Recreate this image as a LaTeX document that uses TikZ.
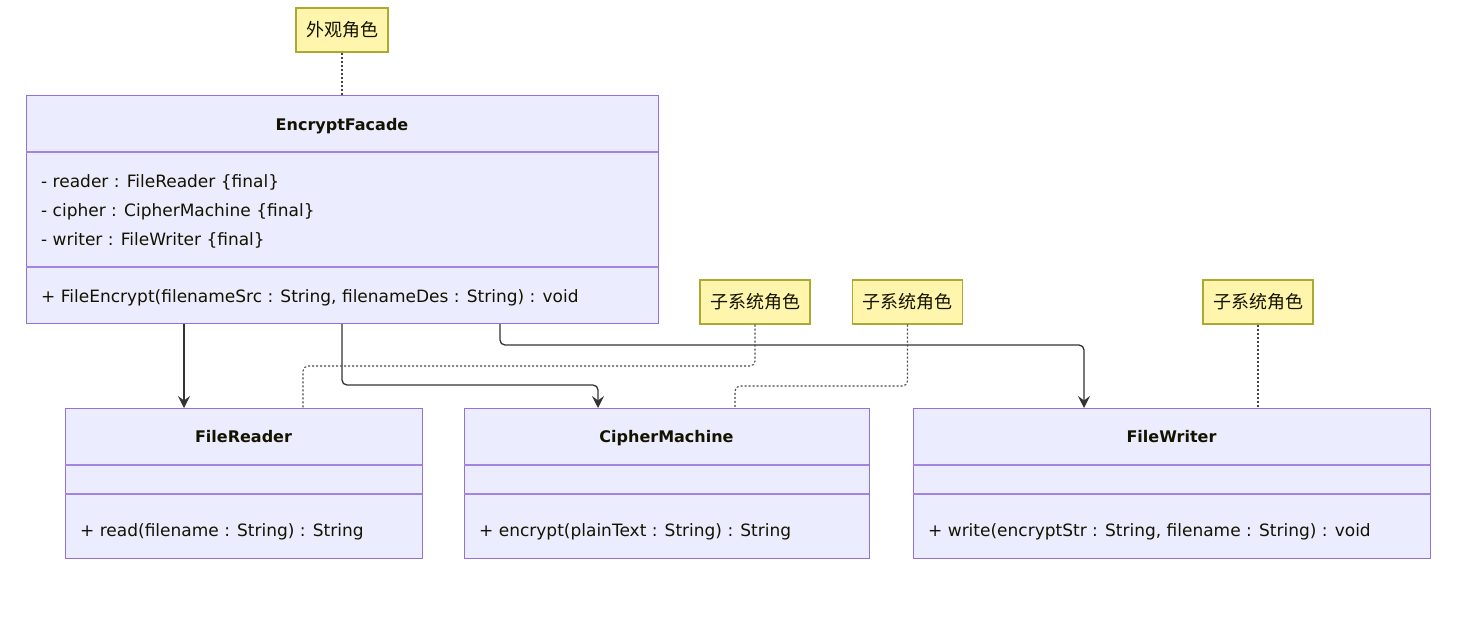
\documentclass[tikz,border=0pt]{standalone}
\usepackage{fontspec}
\setmainfont{DejaVu Sans}
\newfontfamily\cjk{Noto Sans CJK SC}
\usetikzlibrary{arrows.meta,calc}
\definecolor{clsfill}{HTML}{ECECFF}
\definecolor{clsline}{HTML}{9370DB}
\definecolor{notefill}{HTML}{FFF5AD}
\definecolor{noteline}{HTML}{AAAA33}
\definecolor{edge}{HTML}{333333}
\definecolor{txt}{HTML}{131300}
\tikzset{
  cls/.style={draw=clsline, fill=clsfill, line width=1.2pt, anchor=north west, inner sep=0pt},
  divider/.style={draw=clsline!85, line width=1.2pt},
  title/.style={font=\fontsize{16}{19}\selectfont\bfseries, text=txt, inner sep=0pt, anchor=base},
  member/.style={font=\fontsize{17}{19}\selectfont, text=txt, anchor=base west, inner sep=0pt},
  note/.style={draw=noteline, fill=notefill, line width=1.3pt, minimum width=92pt, minimum height=44pt, inner sep=0pt, font=\cjk\fontsize{18}{20}\selectfont, text=txt},
  dep/.style={draw=edge, line width=1.3pt, rounded corners=5pt, -{Stealth[length=12pt,width=12pt,inset=4.5pt]}},
  notelink/.style={draw=edge!90, line width=1.1pt, dash pattern=on 2pt off 2pt, rounded corners=5pt}
}
\begin{document}
\begin{tikzpicture}[x=1pt,y=-1pt]
\useasboundingbox (0,0) rectangle (1473,624);
% classes
\node[cls, minimum width=632pt, minimum height=228pt] (ef) at (26,95) {};
\node[cls, minimum width=357pt, minimum height=150pt] (fr) at (65,408) {};
\node[cls, minimum width=405pt, minimum height=150pt] (cm) at (464,408) {};
\node[cls, minimum width=517pt, minimum height=150pt] (fw) at (913,408) {};
% dividers
\draw[divider] (26,152) -- (658,152);
\draw[divider] (26,267) -- (658,267);
\draw[divider] (65,465) -- (422,465);
\draw[divider] (65,494) -- (422,494);
\draw[divider] (464,465) -- (869,465);
\draw[divider] (464,494) -- (869,494);
\draw[divider] (913,465) -- (1430,465);
\draw[divider] (913,494) -- (1430,494);
% texts
\node[title] (eft) at (342,130) {EncryptFacade};
\node[member] (efa1) at (41,187) {- reader : FileReader \{final\}};
\node[member] (efa2) at (41,216) {- cipher : CipherMachine \{final\}};
\node[member] (efa3) at (41,245) {- writer : FileWriter \{final\}};
\node[member] (efm1) at (41,302) {+ FileEncrypt(filenameSrc : String, filenameDes : String) : void};
\node[title] (frt) at (243.5,442) {FileReader};
\node[member] (frm1) at (80,536) {+ read(filename : String) : String};
\node[title] (cmt) at (666.5,442) {CipherMachine};
\node[member] (cmm1) at (479,536) {+ encrypt(plainText : String) : String};
\node[title] (fwt) at (1171.5,442) {FileWriter};
\node[member] (fwm1) at (928,536) {+ write(encryptStr : String, filename : String) : void};
% notes
\node[note] (n0) at (342,30) {外观角色};
\node[note, minimum width=110pt] (n1) at (755,302) {子系统角色};
\node[note, minimum width=110pt] (n2) at (907.5,302) {子系统角色};
\node[note, minimum width=110pt] (n3) at (1258,302) {子系统角色};
% dependencies
\draw[dep] ($(ef.south west)+(158,0)$) -- ($(fr.north west)+(119,0)$);
\draw[dep] ($(ef.south west)+(316,0)$) -- (342,385) -- (598,385) -- ($(cm.north west)+(134,0)$);
\draw[dep] ($(ef.south west)+(474,0)$) -- (500,345) -- (1084,345) -- ($(fw.north west)+(171,0)$);
% note links
\draw[notelink] (n0.south) -- (ef.north west -| n0.south);
\draw[notelink] (n1.south) -- (755,366) -- (303,366) -- ($(fr.north west)+(238,0)$);
\draw[notelink] (n2.south) -- (907.5,386) -- (735,386) -- ($(cm.north west)+(271,0)$);
\draw[notelink] (n3.south) -- (fw.north west -| n3.south);
\end{tikzpicture}
\end{document}
